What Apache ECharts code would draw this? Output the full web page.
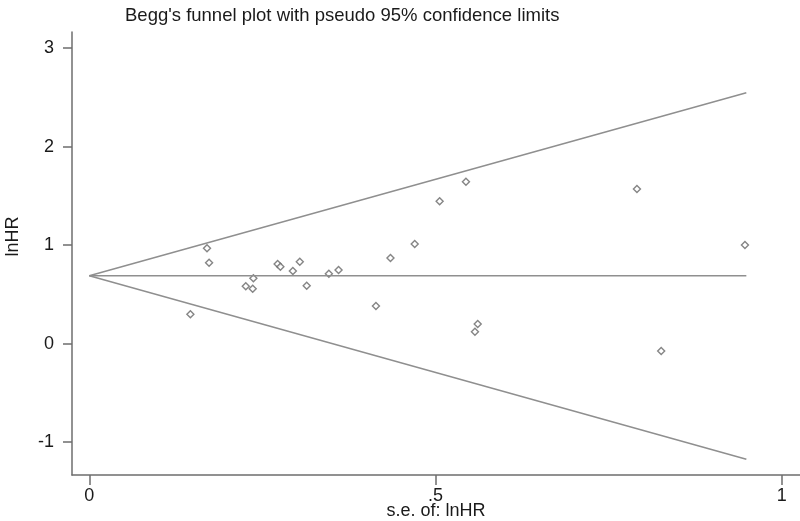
<!DOCTYPE html>
<html>
<head>
<meta charset="utf-8">
<script src="https://cdn.jsdelivr.net/npm/echarts@6/dist/echarts.min.js"></script>
<style>
html,body{margin:0;padding:0;background:#fff;}
#chart{width:800px;height:521px;}
</style>
</head>
<body>
<div id="chart"></div>
<script>
// Study standard errors (x) and log hazard ratios (y)
const studySe = [0.170, 0.173, 0.146, 0.237, 0.226, 0.236, 0.272, 0.276, 0.294, 0.304, 0.314, 0.346, 0.360, 0.414, 0.435, 0.470, 0.506, 0.544, 0.561, 0.557, 0.791, 0.826, 0.947];
const studyLnHR = [0.969, 0.822, 0.298, 0.664, 0.583, 0.558, 0.809, 0.782, 0.738, 0.832, 0.589, 0.711, 0.748, 0.383, 0.870, 1.012, 1.446, 1.645, 0.200, 0.122, 1.571, -0.074, 1.002];

// Funnel endpoints
const funnelSe = [0, 0.949];
const pooledLine = [0.69, 0.69];
const upperLimit = [0.69, 2.548];
const lowerLimit = [0.69, -1.174];

// Tick labels
const xTickValues = [0, 0.5, 1];
const xTickLabels = ['0', '.5', '1'];
const yTickValues = [-1, 0, 1, 2, 3];
const yTickLabels = ['-1', '0', '1', '2', '3'];

const font = 'Liberation Sans, Arial, sans-serif';
const zip = (a, b) => a.map((v, i) => [v, b[i]]);

const chart = echarts.init(document.getElementById('chart'));
const lineStyle = { color: '#8f8f8f', width: 1.5 };
const tickColor = '#6e6e6e';
chart.setOption({
  animation: false,
  backgroundColor: '#fff',
  title: {
    text: "Begg's funnel plot with pseudo 95% confidence limits",
    left: 120, top: 1,
    textStyle: { fontFamily: font, fontSize: 18.5, fontWeight: 'normal', color: '#1a1a1a' }
  },
  grid: { left: 72, right: 0, top: 32, bottom: 46, containLabel: false, outerBoundsMode: 'none' },
  xAxis: {
    type: 'value', min: -0.025, max: 1.0265,
    name: 's.e. of: lnHR', nameLocation: 'middle', nameGap: 27, nameMoveOverlap: false,
    nameTextStyle: { fontFamily: font, fontSize: 18, color: '#1a1a1a' },
    axisLine: { show: true, onZero: false, lineStyle: { color: tickColor, width: 1.5 } },
    axisTick: { show: true, inside: false, length: 10, lineStyle: { color: tickColor, width: 1.5 }, customValues: xTickValues },
    axisLabel: {
      customValues: xTickValues, margin: 12,
      formatter: v => xTickLabels[xTickValues.indexOf(v)] ?? '',
      fontFamily: font, fontSize: 18, color: '#1a1a1a'
    },
    splitLine: { show: false }
  },
  yAxis: {
    type: 'value', min: -1.333, max: 3.164,
    name: 'lnHR', nameLocation: 'middle', nameGap: 50, nameRotate: 90, nameMoveOverlap: false,
    nameTextStyle: { fontFamily: font, fontSize: 18, color: '#1a1a1a', padding: [0, 0, 0, 34] },
    axisLine: { show: true, onZero: false, lineStyle: { color: tickColor, width: 1.5 } },
    axisTick: { show: true, inside: false, length: 9, lineStyle: { color: tickColor, width: 1.5 }, customValues: yTickValues },
    axisLabel: {
      customValues: yTickValues, margin: 18,
      formatter: v => yTickLabels[yTickValues.indexOf(v)] ?? '',
      fontFamily: font, fontSize: 18, color: '#1a1a1a'
    },
    splitLine: { show: false }
  },
  series: [
    { type: 'line', data: zip(funnelSe, upperLimit), showSymbol: false, lineStyle, silent: true },
    { type: 'line', data: zip(funnelSe, pooledLine), showSymbol: false, lineStyle, silent: true },
    { type: 'line', data: zip(funnelSe, lowerLimit), showSymbol: false, lineStyle, silent: true },
    {
      type: 'scatter', data: zip(studySe, studyLnHR), symbol: 'diamond', symbolSize: 7,
      itemStyle: { color: '#ffffff', borderColor: '#666666', borderWidth: 1.4 }
    }
  ]
});
</script>
</body>
</html>
